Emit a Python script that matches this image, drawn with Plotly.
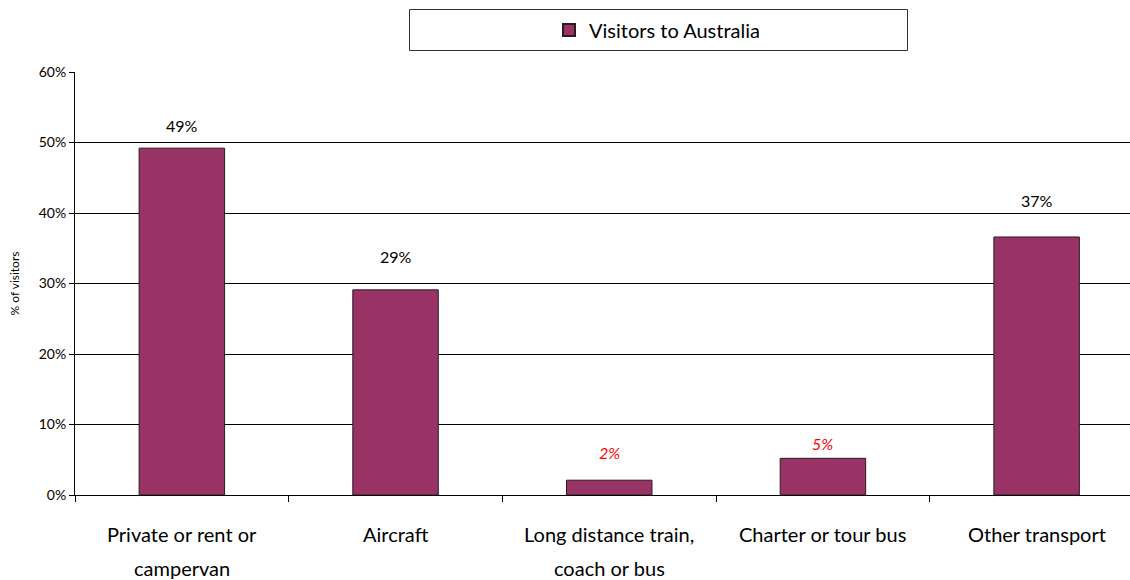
import plotly.graph_objects as go

# Share of visitors by transport mode used while travelling
categories = ["Private or rent or<br>campervan", "Aircraft", "Long distance train,<br>coach or bus",
              "Charter or tour bus", "Other transport"]
visitors_pct = [49.2, 29.1, 2.1, 5.2, 36.6]
label_colors = ["black", "black", "red", "red", "black"]
label_italic = [False, False, True, True, False]
label_shift = [23, 33, 28, 15, 36]
y_ticks = [0, 10, 20, 30, 40, 50, 60]

FONT = "Lato, 'Open Sans', sans-serif"
BAR = "#993366"

fig = go.Figure()
fig.add_trace(go.Bar(
    x=list(range(len(categories))), y=visitors_pct, name="Visitors to Australia",
    width=0.4, marker=dict(color=BAR, line=dict(color="#2a1a22", width=1)),
))

# value labels above the bars
for i, v in enumerate(visitors_pct):
    fig.add_annotation(
        x=i, y=v, xref="x", yref="y", yanchor="middle", yshift=label_shift[i],
        text=f"{v:.0f}%", showarrow=False,
        font=dict(family=FONT, size=16, color=label_colors[i],
                  style="italic" if label_italic[i] else "normal"),
    )

# category labels with wide line spacing
for i, c in enumerate(categories):
    for j, line in enumerate(c.split("<br>")):
        fig.add_annotation(
            x=i, y=0, xref="x", yref="paper", yanchor="middle",
            yshift=-39 - 34 * j, text=line, showarrow=False,
            font=dict(family=FONT, size=20, color="black"),
        )

# legend frame
fig.add_shape(type="rect", xref="paper", yref="paper",
              x0=(409.5 - 75) / 1055, x1=(907.5 - 75) / 1055,
              y0=1 + (72 - 50.5) / 423, y1=1 + (72 - 9.5) / 423,
              line=dict(color="#333333", width=1), fillcolor="white", layer="below")

fig.update_layout(
    width=1130, height=580,
    margin=dict(l=75, r=0, t=72, b=85),
    plot_bgcolor="white", paper_bgcolor="white",
    font=dict(family=FONT, color="black"),
    showlegend=True,
    legend=dict(orientation="h", x=(657 - 75) / 1055, xanchor="center",
                y=1 + (72 - 30) / 423, yanchor="middle",
                font=dict(family=FONT, size=20), bgcolor="rgba(0,0,0,0)",
                itemsizing="constant"),
    xaxis=dict(
        type="linear", range=[-0.5, 4.437], showticklabels=False,
        tickvals=[-0.5, 0.5, 1.5, 2.5, 3.5], ticks="outside", ticklen=6,
        tickcolor="black", showgrid=False, showline=True, linecolor="black",
        linewidth=1, zeroline=False,
    ),
    yaxis=dict(
        range=[0, 60], tickvals=y_ticks, ticktext=[f"{t}%" for t in y_ticks],
        ticks="outside", ticklen=5, tickcolor="black",
        tickfont=dict(family=FONT, size=14),
        showgrid=True, gridcolor="black", gridwidth=1,
        showline=True, linecolor="black", linewidth=1, zeroline=False,
        title=dict(text="% of visitors", font=dict(family=FONT, size=12), standoff=16),
    ),
    bargap=0.6,
)

fig.write_html("out.html")
